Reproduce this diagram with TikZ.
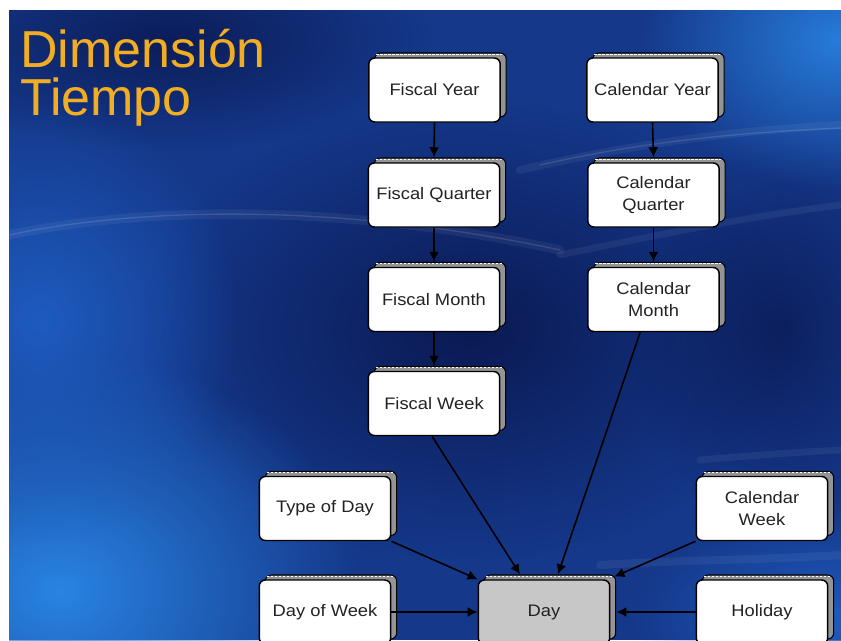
\documentclass[tikz,border=0pt]{standalone}
\usepackage{fontspec}
\setmainfont{Liberation Sans}
\newfontfamily\boxfont[FakeStretch=1.1]{Liberation Sans}
\usetikzlibrary{arrows.meta,shadows,fadings}

\definecolor{bgbase}{HTML}{15388A}
\definecolor{navy}{HTML}{0A1850}
\definecolor{skyblue}{HTML}{2A88E8}
\definecolor{midblue}{HTML}{1E5CC0}
\definecolor{titlegold}{HTML}{F2AE22}
\definecolor{boxtext}{HTML}{222222}

\tikzfading[name=softspot, inner color=transparent!0, outer color=transparent!100]

\tikzset{
  entity/.style={draw=black, line width=1.1pt, rounded corners=4.5pt, fill=white,
    minimum width=98.5pt, minimum height=48pt, inner sep=2pt, align=center,
    text=boxtext, font=\boxfont\fontsize{12.5}{16.5}\selectfont,
    copy shadow={shadow xshift=4.5pt, shadow yshift=3.75pt, fill=black!42,
      draw=black, line width=0.8pt}},
  link/.style={draw=black, line width=1.2pt, -{Latex[length=7.5pt, width=7.5pt]}},
  titletext/.style={text=titlegold, font=\fontsize{39}{39}\selectfont,
    inner sep=0pt, anchor=base west},
  wisp/.style={white, line cap=round},
}

\begin{document}
\begin{tikzpicture}[x=0.75pt, y=-0.75pt]
\useasboundingbox (0,0) rectangle (841,640);
\fill[white] (0,0) rectangle (841,640);

% backdrop: dark blue field with lighter glows and faint wisps
\begin{scope}
  \clip (9,10) rectangle (841,640);
  \fill[bgbase] (9,10) rectangle (841,640);
  \fill[navy, path fading=softspot, fill opacity=0.95] (470,330) ellipse (330 and 230);
  \fill[navy, path fading=softspot, fill opacity=0.85] (170,40) ellipse (260 and 110);
  \fill[navy, path fading=softspot, fill opacity=0.75] (780,330) ellipse (150 and 200);
  \fill[skyblue, path fading=softspot, fill opacity=0.95] (60,590) ellipse (300 and 240);
  \fill[skyblue, path fading=softspot, fill opacity=0.85] (840,40) ellipse (200 and 150);
  \fill[midblue, path fading=softspot] (40,320) ellipse (200 and 220);
  \fill[midblue, path fading=softspot] (830,620) ellipse (200 and 110);
  \draw[wisp, opacity=0.06, line width=7pt] (9,235) .. controls (150,205) and (350,205) .. (560,250);
  \draw[wisp, opacity=0.12, line width=1pt] (9,235) .. controls (150,205) and (350,205) .. (560,250);
  \draw[wisp, opacity=0.06, line width=6pt] (520,170) .. controls (650,140) and (750,130) .. (841,125);
  \draw[wisp, opacity=0.12, line width=1pt] (540,165) .. controls (650,140) and (750,132) .. (841,128);
  \draw[wisp, opacity=0.06, line width=5pt] (560,255) .. controls (680,230) and (760,215) .. (841,205);
  \draw[wisp, opacity=0.06, line width=6pt] (600,565) .. controls (680,560) and (760,560) .. (841,555);
  \draw[wisp, opacity=0.06, line width=5pt] (700,460) .. controls (760,455) and (800,452) .. (841,450);
\end{scope}

% heading
\node[titletext] (title1) at (20,67) {Dimensión};
\node[titletext] (title2) at (20,115) {Tiempo};

% entities
\begin{scope}
  \clip (0,0) rectangle (841,640);
  \node[entity] (fy) at (434.5,90) {Fiscal Year};
  \node[entity] (cy) at (652.5,90) {Calendar Year};
  \node[entity] (fq) at (434,195) {Fiscal Quarter};
  \node[entity] (cq) at (653.5,195) {Calendar\\Quarter};
  \node[entity] (fm) at (434,299.5) {Fiscal Month};
  \node[entity] (cm) at (653.5,299.5) {Calendar\\Month};
  \node[entity] (fw) at (434,403.5) {Fiscal Week};
  \node[entity] (td) at (325,508.5) {Type of Day};
  \node[entity] (cw) at (762,508.5) {Calendar\\Week};
  \node[entity] (dw) at (325,612) {Day of Week};
  \node[entity, fill=black!22] (day) at (544,612) {Day};
  \node[entity] (hol) at (762,612) {Holiday};

  % dashed rim along the top of each back plate
  \foreach \n in {fy,cy,fq,cq,fm,cm,fw,td,cw,dw,day,hol}
    \draw[white, line width=0.9pt, dash pattern=on 2pt off 1pt]
      ([xshift=6pt,yshift=2.2pt]\n.north west) -- ([xshift=1pt,yshift=2.2pt]\n.north east);

  % hierarchy links
  \draw[link] (fy.south) -- ([yshift=3.75pt]fq.north);
  \draw[link] (fq.south) -- ([yshift=3.75pt]fm.north);
  \draw[link] (fm.south) -- ([yshift=3.75pt]fw.north);
  \draw[link] (cy.south) -- ([yshift=3.75pt]cq.north);
  \draw[link] (cq.south) -- ([yshift=3.75pt]cm.north);
  \draw[link] ([xshift=-1.5pt]fw.south) -- ([xshift=-18pt,yshift=3.75pt]day.north);
  \draw[link] ([xshift=-10pt]cm.south) -- ([xshift=10.5pt,yshift=3.75pt]day.north);
  \draw[link] (td.south east) -- (day.north west);
  \draw[link] (cw.south west) -- ([xshift=3pt,yshift=2pt]day.north east);
  \draw[link] (dw.east) -- (day.west);
  \draw[link] (hol.west) -- ([xshift=4.5pt]day.east);
\end{scope}
\end{tikzpicture}
\end{document}
